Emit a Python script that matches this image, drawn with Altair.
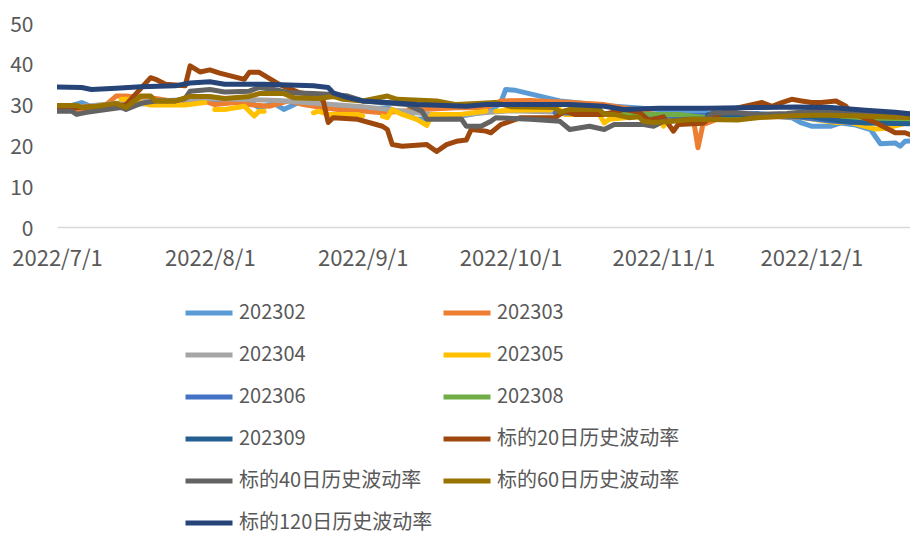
import altair as alt
import pandas as pd

NAMES = ["202302", "202303", "202304", "202305", "202306", "202308", "202309",
         "标的20日历史波动率", "标的40日历史波动率", "标的60日历史波动率", "标的120日历史波动率"]
COLORS = ["#5B9BD5", "#ED7D31", "#A5A5A5", "#FFC000", "#4472C4", "#70AD47", "#255E91",
          "#9E480E", "#636363", "#997300", "#264478"]
MONTH_TICKS = [7, 8, 9, 10, 11, 12]

# each series: list of segments, each segment list of (MM-DD, value)
S_202302 = [[("07-01", 29.5), ("07-04", 29.8), ("07-06", 30.5), ("07-08", 29.5), ("07-15", 30.0),
             ("07-25", 30.5), ("08-05", 31.0), ("08-09", 30.9), ("08-11", 29.2), ("08-14", 30.3),
             ("08-16", 28.8), ("08-19", 30.5), ("08-21", 30.9), ("08-24", 30.0), ("08-26", 29.1),
             ("08-31", 28.6), ("09-03", 29.0), ("09-06", 29.2), ("09-09", 28.0), ("09-12", 26.4),
             ("09-20", 27.0), ("09-27", 28.4), ("09-29", 30.5), ("09-30", 33.7), ("10-02", 33.5),
             ("10-11", 30.9), ("10-20", 29.8), ("10-31", 28.8), ("11-10", 28.0), ("11-20", 27.5),
             ("11-27", 26.8), ("11-29", 25.5), ("12-01", 24.7), ("12-05", 24.7), ("12-07", 25.5),
             ("12-10", 25.0), ("12-13", 23.9), ("12-15", 20.4), ("12-18", 20.6), ("12-19", 19.8),
             ("12-20", 21.0), ("12-22", 21.2)]]
S_202303 = [[("07-01", 29.3), ("07-06", 28.5), ("07-10", 29.0), ("07-13", 32.1), ("07-15", 32.1),
             ("07-18", 31.7), ("07-21", 31.5), ("07-26", 30.5), ("07-30", 31.3), ("08-02", 30.0),
             ("08-06", 30.5), ("08-09", 30.0), ("08-13", 29.6), ("08-17", 30.9), ("08-20", 30.0),
             ("08-24", 29.2), ("08-27", 28.8), ("09-01", 28.4), ("09-05", 28.0), ("09-13", 28.8),
             ("09-20", 29.2), ("09-26", 29.2), ("09-29", 30.9), ("10-05", 31.0), ("10-13", 30.5),
             ("10-20", 30.0), ("10-28", 28.4), ("10-31", 27.2), ("11-03", 27.6), ("11-07", 27.0),
             ("11-08", 19.4), ("11-09", 25.1), ("11-12", 26.5), ("11-20", 27.0), ("12-01", 27.0),
             ("12-10", 26.5), ("12-22", 25.5)]]
S_202304 = [[("07-01", 29.0), ("07-15", 30.5), ("08-01", 31.5), ("08-15", 31.0), ("09-01", 29.5),
             ("09-15", 27.6), ("09-21", 27.6), ("10-01", 28.5), ("10-15", 28.0), ("11-01", 27.0),
             ("11-15", 27.5), ("12-01", 27.5), ("12-22", 26.5)]]
S_202305 = [[("07-14", 31.3), ("07-16", 31.3), ("07-18", 30.5), ("07-20", 29.9), ("07-27", 29.9),
             ("07-31", 30.5)],
            [("08-02", 28.8), ("08-04", 28.8), ("08-08", 29.6), ("08-10", 27.2), ("08-11", 28.4),
             ("08-12", 28.4)],
            [("08-22", 28.0), ("08-23", 28.4), ("08-25", 27.6), ("08-31", 27.6), ("09-01", 27.2)],
            [("09-05", 27.2), ("09-06", 26.8), ("09-07", 28.8), ("09-09", 27.6), ("09-12", 26.4),
             ("09-14", 24.9), ("09-15", 27.6), ("09-21", 27.6), ("09-26", 28.4)],
            [("09-28", 28.4), ("10-01", 28.6), ("10-11", 28.8), ("10-12", 27.6), ("10-19", 27.6),
             ("10-20", 25.5), ("10-21", 26.4), ("10-28", 27.2), ("10-31", 27.2), ("11-01", 24.7),
             ("11-02", 26.8), ("11-10", 26.4), ("11-20", 27.0), ("11-23", 27.6), ("11-28", 27.0),
             ("12-06", 25.6), ("12-09", 25.6), ("12-14", 24.0), ("12-16", 24.2), ("12-22", 26.0)]]
S_202306 = [[("10-10", 28.0), ("10-20", 27.8), ("11-01", 27.3), ("11-10", 27.4), ("11-20", 27.8),
             ("11-28", 27.0), ("12-05", 26.0), ("12-09", 25.6), ("12-12", 25.8), ("12-22", 25.8)]]
S_202308 = [[("10-20", 27.8), ("11-01", 27.6), ("11-04", 27.6), ("11-10", 26.8), ("11-14", 27.0),
             ("11-25", 27.4), ("12-05", 26.8), ("12-12", 26.5), ("12-22", 26.3)]]
S_202309 = [[("11-10", 27.5), ("11-20", 27.5), ("12-01", 27.0), ("12-07", 26.0), ("12-12", 25.5),
             ("12-22", 25.3)]]
S_HV20 = [[("07-01", 29.0), ("07-08", 29.5), ("07-13", 29.6), ("07-15", 30.0), ("07-20", 36.6),
           ("07-21", 36.2), ("07-23", 35.0), ("07-27", 34.6), ("07-28", 39.5), ("07-30", 38.0),
           ("08-01", 38.5), ("08-03", 37.7), ("08-08", 36.2), ("08-09", 37.9), ("08-11", 37.9),
           ("08-15", 35.0), ("08-19", 33.0), ("08-23", 32.1), ("08-24", 30.9), ("08-25", 25.6),
           ("08-26", 26.8), ("08-31", 26.4), ("09-05", 24.7), ("09-06", 23.9), ("09-07", 20.2),
           ("09-09", 19.8), ("09-14", 20.2), ("09-16", 18.5), ("09-18", 20.2), ("09-20", 21.0),
           ("09-22", 21.3), ("09-23", 23.9), ("09-26", 23.5), ("09-27", 23.1), ("09-29", 25.1),
           ("10-03", 26.8), ("10-10", 26.8), ("10-12", 28.4), ("10-14", 27.6), ("10-20", 27.6),
           ("10-24", 28.8), ("10-27", 28.2), ("10-29", 26.2), ("11-01", 27.0), ("11-03", 23.5),
           ("11-04", 25.1), ("11-09", 25.4), ("11-11", 27.2), ("11-16", 29.2), ("11-21", 30.5),
           ("11-23", 29.6), ("11-25", 30.5), ("11-27", 31.3), ("11-29", 30.9), ("12-01", 30.5),
           ("12-03", 30.5), ("12-06", 30.9), ("12-08", 29.6), ("12-09", 28.1), ("12-14", 25.6),
           ("12-18", 23.1), ("12-20", 23.1), ("12-22", 22.2)]]
S_HV40 = [[("07-01", 28.4), ("07-04", 28.4), ("07-05", 27.6), ("07-07", 28.1), ("07-11", 28.8),
           ("07-14", 29.3), ("07-15", 28.8), ("07-18", 30.3), ("07-21", 30.9), ("07-25", 30.9),
           ("07-27", 31.5), ("07-28", 33.3), ("08-01", 33.7), ("08-04", 33.1), ("08-09", 33.3),
           ("08-11", 34.2), ("08-15", 33.5), ("08-17", 32.9), ("08-22", 32.7), ("08-26", 32.5),
           ("08-29", 32.1), ("09-01", 30.9), ("09-10", 30.0), ("09-13", 28.4), ("09-14", 26.4),
           ("09-21", 26.5), ("09-22", 24.7), ("09-25", 24.7), ("09-27", 25.9), ("09-28", 26.8),
           ("10-05", 26.4), ("10-11", 25.9), ("10-13", 23.9), ("10-17", 24.7), ("10-20", 23.9),
           ("10-22", 25.1), ("10-28", 25.1), ("10-30", 24.7), ("11-01", 25.9), ("11-06", 26.4),
           ("11-09", 26.4), ("11-10", 26.8), ("11-11", 28.0), ("11-16", 28.0), ("11-20", 27.6),
           ("11-26", 27.8), ("12-01", 28.4), ("12-10", 28.0), ("12-22", 27.6)]]
S_HV60 = [[("07-01", 29.8), ("07-05", 29.8), ("07-06", 29.3), ("07-09", 29.6), ("07-13", 30.3),
           ("07-15", 29.3), ("07-18", 32.1), ("07-20", 32.1), ("07-21", 30.9), ("07-25", 30.9),
           ("07-28", 32.0), ("08-01", 32.0), ("08-04", 31.5), ("08-09", 32.0), ("08-11", 32.7),
           ("08-16", 32.7), ("08-18", 31.7), ("08-23", 31.5), ("08-26", 32.0), ("08-28", 31.3),
           ("09-01", 30.9), ("09-06", 32.1), ("09-08", 31.3), ("09-16", 30.9), ("09-20", 30.0),
           ("09-28", 30.5), ("10-01", 29.5), ("10-10", 29.3), ("10-11", 28.1), ("10-13", 28.8),
           ("10-19", 28.8), ("10-20", 27.6), ("10-22", 27.6), ("10-25", 26.8), ("10-27", 27.0),
           ("10-28", 25.9), ("10-30", 25.6), ("11-03", 25.9), ("11-07", 26.4), ("11-16", 26.2),
           ("11-20", 26.8), ("11-26", 27.2), ("12-01", 27.4), ("12-04", 27.4), ("12-11", 27.2),
           ("12-18", 26.9), ("12-22", 26.8)]]
S_HV120 = [[("07-01", 34.3), ("07-06", 34.2), ("07-08", 33.7), ("07-13", 34.0), ("07-18", 34.4),
            ("07-25", 34.6), ("07-28", 35.3), ("08-01", 35.6), ("08-04", 35.0), ("08-12", 35.0),
            ("08-22", 34.6), ("08-25", 34.2), ("08-26", 32.9), ("08-29", 31.7), ("09-01", 30.9),
            ("09-06", 30.5), ("09-12", 30.0), ("09-22", 29.6), ("09-26", 30.0), ("10-01", 30.0),
            ("10-13", 30.0), ("10-20", 29.6), ("10-24", 28.8), ("10-31", 29.1), ("11-10", 29.1),
            ("11-20", 29.3), ("11-28", 29.4), ("12-05", 29.3), ("12-12", 28.6), ("12-18", 28.1),
            ("12-22", 27.6)]]

ALL = [S_202302, S_202303, S_202304, S_202305, S_202306, S_202308, S_202309,
       S_HV20, S_HV40, S_HV60, S_HV120]

rows = []
for name, segs in zip(NAMES, ALL):
    for k, seg in enumerate(segs):
        for d, v in seg:
            rows.append({"series": name, "seg": k, "date": "2022-" + d, "value": v})
df = pd.DataFrame(rows)

FONT = "Noto Sans CJK SC"

x_enc = alt.X(
    "date:T",
    scale=alt.Scale(type="utc", domain=[alt.DateTime(year=2022, month=7, date=1, utc=True),
                                        alt.DateTime(year=2022, month=12, date=21, utc=True)]),
    axis=alt.Axis(values=[alt.DateTime(year=2022, month=m, date=1, utc=True) for m in MONTH_TICKS],
                  labelExpr="utcFormat(datum.value, '%Y/%-m/%-d')",
                  title=None, grid=False, ticks=False, domainColor="#D9D9D9", domainWidth=1.5,
                  labelPadding=21, labelFlush=False, labelOverlap=False, labelFontSize=22),
)
y_enc = alt.Y("value:Q", scale=alt.Scale(domain=[0, 50]),
              axis=alt.Axis(values=[0, 10, 20, 30, 40, 50], title=None, grid=False, domain=False,
                            ticks=False, labelPadding=24, labelOffset=2))
legend = alt.Legend(title=None, orient="none", legendX=126, legendY=264, columns=2,
                    direction="horizontal",
                    symbolType="stroke", symbolSize=2209, symbolStrokeWidth=5,
                    labelFontSize=20, labelFont=FONT, labelColor="#595959",
                    rowPadding=6, columnPadding=0, labelOffset=4, labelLimit=400)
color_enc = alt.Color("series:N", scale=alt.Scale(domain=NAMES, range=COLORS), legend=legend)

layers = []
for name in NAMES:
    layers.append(
        alt.Chart(df).transform_filter(alt.datum.series == name)
        .mark_line(strokeWidth=5, strokeCap="round", strokeJoin="round", clip=True)
        .encode(x=x_enc, y=y_enc, color=color_enc, detail="seg:N")
    )

chart = alt.layer(*layers).properties(
    width=853, height=204,
    autosize=alt.AutoSizeParams(type="none"),
    padding={"left": 49, "top": 15, "right": 0, "bottom": 312},
).configure_view(stroke=None).configure_axis(
    labelFont=FONT, labelFontSize=21, labelColor="#595959"
)

chart.save("out.html", embed_options={"renderer": "svg", "actions": False})
